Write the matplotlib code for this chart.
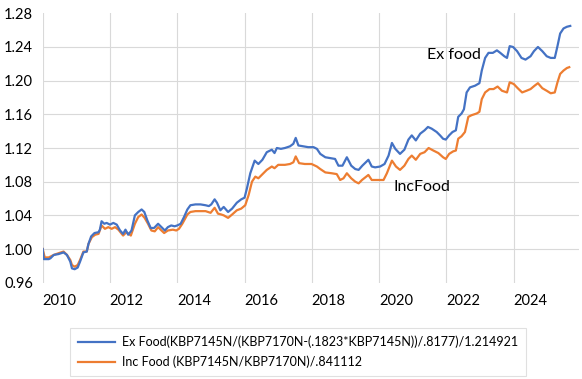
import matplotlib
matplotlib.use("Agg")
import matplotlib.pyplot as plt

plt.rcParams['font.family'] = ['Lato', 'DejaVu Sans']

ex_years = [2009.50, 2009.53, 2009.68, 2009.73, 2009.83, 2009.97, 2010.12, 2010.22, 2010.32, 2010.37,
            2010.45, 2010.54, 2010.61, 2010.71, 2010.81, 2010.86, 2010.94, 2011.04, 2011.16, 2011.20,
            2011.25, 2011.33, 2011.40, 2011.50, 2011.60, 2011.70, 2011.80, 2011.89, 2011.96, 2012.04,
            2012.14, 2012.24, 2012.34, 2012.44, 2012.52, 2012.61, 2012.71, 2012.81, 2012.93, 2013.03,
            2013.13, 2013.22, 2013.32, 2013.42, 2013.50, 2013.60, 2013.70, 2013.80, 2013.89, 2014.04,
            2014.19, 2014.34, 2014.44, 2014.51, 2014.61, 2014.68, 2014.78, 2014.88, 2015.01, 2015.13,
            2015.27, 2015.40, 2015.50, 2015.57, 2015.67, 2015.80, 2015.91, 2016.03, 2016.16, 2016.31,
            2016.39, 2016.46, 2016.58, 2016.70, 2016.85, 2016.95, 2017.02, 2017.10, 2017.24, 2017.39,
            2017.55, 2017.65, 2017.75, 2017.90, 2018.04, 2018.19, 2018.29, 2018.41, 2018.54, 2018.67,
            2018.79, 2018.89, 2019.00, 2019.18, 2019.28, 2019.38, 2019.53, 2019.66, 2019.78, 2019.88,
            2019.98, 2020.12, 2020.25, 2020.37, 2020.47, 2020.59, 2020.72, 2020.85, 2020.95, 2021.06,
            2021.21, 2021.31, 2021.40, 2021.48, 2021.58, 2021.68, 2021.78, 2021.85, 2021.95, 2022.02,
            2022.10, 2022.20, 2022.35, 2022.48, 2022.55, 2022.65, 2022.75, 2022.88, 2023.00, 2023.10,
            2023.22, 2023.30, 2023.38, 2023.48, 2023.60, 2023.73, 2023.85, 2024.00, 2024.10, 2024.22,
            2024.35, 2024.48, 2024.60, 2024.72, 2024.80, 2024.88, 2024.98, 2025.08, 2025.18]
ex_values = [1.000, 0.988, 0.988, 0.989, 0.993, 0.994, 0.996, 0.993, 0.985, 0.977,
             0.976, 0.978, 0.985, 0.996, 0.997, 1.006, 1.015, 1.019, 1.020, 1.023,
             1.033, 1.030, 1.031, 1.029, 1.031, 1.029, 1.022, 1.018, 1.023, 1.017,
             1.022, 1.040, 1.044, 1.047, 1.044, 1.034, 1.025, 1.025, 1.030, 1.026,
             1.022, 1.026, 1.028, 1.027, 1.028, 1.030, 1.038, 1.047, 1.052, 1.053,
             1.053, 1.052, 1.051, 1.053, 1.059, 1.055, 1.046, 1.050, 1.044, 1.048,
             1.055, 1.059, 1.061, 1.072, 1.090, 1.105, 1.101, 1.106, 1.115, 1.118,
             1.114, 1.120, 1.119, 1.120, 1.122, 1.125, 1.132, 1.123, 1.122, 1.121,
             1.121, 1.119, 1.113, 1.109, 1.108, 1.107, 1.099, 1.099, 1.109, 1.099,
             1.095, 1.094, 1.099, 1.106, 1.098, 1.097, 1.098, 1.101, 1.111, 1.126,
             1.119, 1.113, 1.118, 1.130, 1.135, 1.129, 1.137, 1.141, 1.145, 1.143,
             1.139, 1.135, 1.131, 1.130, 1.135, 1.139, 1.141, 1.157, 1.161, 1.166,
             1.186, 1.192, 1.194, 1.197, 1.212, 1.227, 1.233, 1.233, 1.236, 1.233,
             1.229, 1.227, 1.241, 1.240, 1.235, 1.227, 1.225, 1.229, 1.235, 1.240,
             1.235, 1.229, 1.227, 1.227, 1.241, 1.256, 1.262, 1.264, 1.265]

inc_years = [2009.50, 2009.56, 2009.68, 2009.83, 2009.97, 2010.12, 2010.22, 2010.32, 2010.37, 2010.45,
             2010.54, 2010.61, 2010.71, 2010.81, 2010.86, 2010.96, 2011.06, 2011.16, 2011.25, 2011.35,
             2011.45, 2011.55, 2011.65, 2011.75, 2011.89, 2011.99, 2012.12, 2012.24, 2012.34, 2012.44,
             2012.53, 2012.63, 2012.73, 2012.83, 2012.93, 2013.03, 2013.11, 2013.22, 2013.37, 2013.47,
             2013.55, 2013.65, 2013.80, 2013.89, 2014.04, 2014.34, 2014.49, 2014.61, 2014.71, 2014.81,
             2014.88, 2015.01, 2015.13, 2015.27, 2015.40, 2015.52, 2015.62, 2015.72, 2015.82, 2015.91,
             2016.01, 2016.16, 2016.31, 2016.39, 2016.50, 2016.70, 2016.85, 2016.95, 2017.02, 2017.12,
             2017.29, 2017.49, 2017.65, 2017.75, 2017.90, 2018.09, 2018.24, 2018.34, 2018.44, 2018.54,
             2018.67, 2018.79, 2018.89, 2018.99, 2019.18, 2019.28, 2019.43, 2019.63, 2019.73, 2019.88,
             2020.00, 2020.12, 2020.25, 2020.37, 2020.47, 2020.59, 2020.72, 2020.85, 2020.97, 2021.11,
             2021.26, 2021.40, 2021.48, 2021.58, 2021.70, 2021.78, 2021.85, 2021.95, 2022.05, 2022.15,
             2022.25, 2022.40, 2022.48, 2022.55, 2022.65, 2022.78, 2022.90, 2023.02, 2023.15, 2023.30,
             2023.38, 2023.50, 2023.62, 2023.75, 2023.88, 2024.00, 2024.12, 2024.22, 2024.35, 2024.48,
             2024.60, 2024.72, 2024.80, 2024.88, 2024.98, 2025.08, 2025.15]
inc_values = [1.000, 0.990, 0.990, 0.993, 0.995, 0.997, 0.993, 0.987, 0.981, 0.979,
              0.981, 0.987, 0.997, 0.997, 1.006, 1.014, 1.017, 1.018, 1.028, 1.024,
              1.026, 1.024, 1.026, 1.023, 1.016, 1.020, 1.016, 1.030, 1.038, 1.041,
              1.037, 1.030, 1.022, 1.021, 1.026, 1.022, 1.019, 1.022, 1.023, 1.022,
              1.024, 1.030, 1.041, 1.044, 1.045, 1.045, 1.043, 1.049, 1.042, 1.041,
              1.040, 1.037, 1.041, 1.046, 1.048, 1.052, 1.064, 1.080, 1.086, 1.084,
              1.088, 1.094, 1.098, 1.096, 1.100, 1.100, 1.101, 1.103, 1.110, 1.102,
              1.101, 1.101, 1.098, 1.095, 1.091, 1.090, 1.089, 1.082, 1.084, 1.090,
              1.084, 1.080, 1.078, 1.082, 1.088, 1.082, 1.082, 1.082, 1.090, 1.105,
              1.098, 1.094, 1.099, 1.107, 1.111, 1.106, 1.113, 1.115, 1.120, 1.117,
              1.114, 1.109, 1.107, 1.113, 1.116, 1.117, 1.131, 1.134, 1.139, 1.157,
              1.159, 1.161, 1.163, 1.178, 1.186, 1.190, 1.190, 1.193, 1.188, 1.186,
              1.198, 1.196, 1.191, 1.186, 1.188, 1.190, 1.194, 1.197, 1.191, 1.188,
              1.185, 1.186, 1.198, 1.208, 1.212, 1.215, 1.216]

year_ticks = [2010, 2012, 2014, 2016, 2018, 2020, 2022, 2024]
year_bounds = [2009.5, 2011.5, 2013.5, 2015.5, 2017.5, 2019.5, 2021.5, 2023.5]
y_ticks = [0.96, 1.00, 1.04, 1.08, 1.12, 1.16, 1.20, 1.24, 1.28]
y_grid = [1.00, 1.04, 1.08, 1.12, 1.16, 1.20, 1.24]

ex_label = "Ex Food(KBP7145N/(KBP7170N-(.1823*KBP7145N))/.8177)/1.214921"
inc_label = "Inc Food (KBP7145N/KBP7170N)/.841112"

blue = '#4472C4'
orange = '#ED7D31'
grid_c = '#D9D9D9'

fig = plt.figure(figsize=(5.82, 3.79), dpi=100)
ax = fig.add_axes([42.7/582, 1-282.7/379, (579-42.7)/582, (282.7-13.3)/379])

for yv in y_grid:
    ax.axhline(yv, color=grid_c, lw=0.8, zorder=0)
for xv in year_bounds:
    ax.axvline(xv, ymin=0, ymax=1, color=grid_c, lw=0.8, zorder=0)

ax.plot(ex_years, ex_values, color=blue, lw=1.6, label=ex_label, zorder=3)
ax.plot(inc_years, inc_values, color=orange, lw=1.6, label=inc_label, zorder=2)

ax.set_xlim(2009.5, 2025.44)
ax.set_ylim(0.96, 1.28)
ax.set_xticks(year_ticks)
ax.set_xticklabels([str(y) for y in year_ticks])
ax.set_yticks(y_ticks)
ax.set_yticklabels([f"{v:.2f}" for v in y_ticks])
ax.tick_params(axis='both', length=0, labelsize=10.5, colors='#000000')
ax.tick_params(axis='x', pad=8)
ax.tick_params(axis='y', pad=7)
for s in ax.spines.values():
    s.set_visible(False)

ax.text(2020.92, 1.2305, "Ex food", fontsize=11.5, ha='left', va='center')
ax.text(2019.94, 1.074, "IncFood", fontsize=11.5, ha='left', va='center')

leg = fig.legend(loc='upper left', bbox_to_anchor=(70/582, 1-328/379), ncol=1,
                 fontsize=9, frameon=True, fancybox=False, edgecolor='#D9D9D9',
                 handlelength=3.0, handletextpad=0.6, borderpad=0.6, labelspacing=0.6,
                 borderaxespad=0)
leg.get_frame().set_linewidth(0.8)

fig.savefig("out.png", dpi=100)
